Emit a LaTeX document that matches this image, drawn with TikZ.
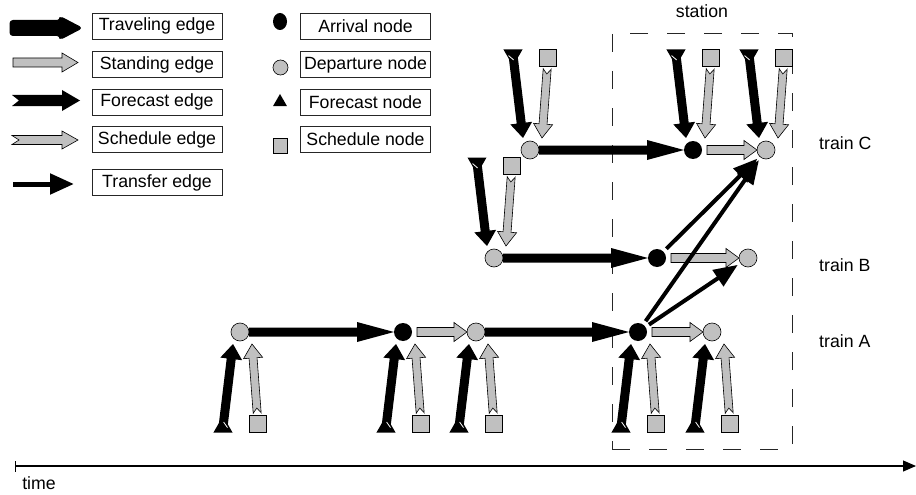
\documentclass[tikz,border=0pt]{standalone}
\usepackage{fontspec}
\setmainfont{Liberation Sans}
\usetikzlibrary{calc,shapes.geometric,arrows.meta}
\definecolor{lg}{RGB}{192,192,192}
\newdimen\fcdx \newdimen\fcdy
\makeatletter
% fat arrow drawn along the line between two named nodes/coordinates
\newcommand\fatconn[5]{%
  \pgfmathanglebetweenpoints{\pgfpointanchor{#2}{center}}{\pgfpointanchor{#3}{center}}%
  \let\fcang\pgfmathresult
  \pgfpointdiff{\pgfpointanchor{#2}{center}}{\pgfpointanchor{#3}{center}}%
  \fcdx=\pgf@x \fcdy=\pgf@y
  \pgfmathsetmacro\fclen{veclen(\fcdx,\fcdy)}%
  \pgfmathsetmacro\fcS{#4}%
  \pgfmathsetmacro\fcE{\fclen-(#5)}%
  \begin{scope}[shift={(#2.center)}, rotate=\fcang]
    #1
  \end{scope}}
\makeatother
% #1 style, #2 shaft half width, #3 head half width, #4 head length, #5 tail notch depth
\newcommand\shArrow[5]{%
  \pgfmathsetmacro\fcH{\fcE-(#4)}%
  \pgfmathsetmacro\fcN{\fcS+(#5)}%
  \path[#1] (\fcS,-#2) -- (\fcH,-#2) -- (\fcH,-#3) -- (\fcE,0) -- (\fcH,#3) -- (\fcH,#2) -- (\fcS,#2) -- (\fcN,0) -- cycle;}
\newcommand\shSlash[1]{\draw[white, line width=0.8pt] (\fcS,#1) -- (\fcN,0);}
\tikzset{
  lbl/.style={font=\fontsize{17.7}{20}\selectfont, inner sep=0pt},
  legbox/.style={draw=black!85, line width=0.7pt, minimum width=130pt, minimum height=26pt, inner sep=0pt, font=\fontsize{17.7}{20}\selectfont},
  arrnode/.style={circle, fill=black, minimum size=18pt, inner sep=0pt},
  depnode/.style={circle, fill=lg, draw=black, line width=0.6pt, minimum size=18pt, inner sep=0pt},
  fcnode/.style={regular polygon, regular polygon sides=3, fill=black, minimum size=22pt, inner sep=0pt},
  scnode/.style={rectangle, fill=lg, draw=black, line width=0.6pt, minimum size=17pt, inner sep=0pt},
  travel/.style={fill=black},
  standing/.style={fill=lg, draw=black, line width=0.6pt},
  forecast/.style={fill=black},
  schedule/.style={fill=lg, draw=black, line width=0.6pt},
  legtravel/.style={fill=black, draw=black, line width=1pt, rounded corners=3pt, line join=round},
  transfer/.style={line width=4pt, -{Triangle[length=24pt,width=19pt]}, shorten <=4pt, shorten >=3pt},
}
\newcommand\fsPair[3]{%
  \node[fcnode, shape border rotate=#3] (#1f) at ($(#1.center)+(-17,#2*95)$) {};
  \node[scnode] (#1s) at ($(#1.center)+(18,#2*92)$) {};
  \coordinate (#1ft) at ($(#1.center)+(-7,#2*12)$);
  \coordinate (#1st) at ($(#1.center)+(12,#2*12)$);
  \fatconn{\shArrow{forecast}{4.5}{11}{15}{5}\shSlash{4.5}}{#1f}{#1ft}{0}{0}%
  \fatconn{\shArrow{schedule}{4}{9.5}{14}{5}}{#1s}{#1st}{11}{0}}
\begin{document}
\begin{tikzpicture}[x=1pt,y=-1pt]
\useasboundingbox (0,0) rectangle (916,495);

% station frame
\node[draw=black!85, line width=0.9pt, dash pattern=on 18pt off 19pt, minimum width=180pt, minimum height=416pt, inner sep=0pt] (station) at (702,241) {};
\node[lbl] (stationlbl) at (702,11) {station};

% ---------- legend ----------
\coordinate (lt1) at (10,28);   \coordinate (lt2) at (82,28);
\coordinate (ls1) at (13,62.5); \coordinate (ls2) at (78,62.5);
\coordinate (lf1) at (12,100.5);\coordinate (lf2) at (80,100.5);
\coordinate (lc1) at (12,140);  \coordinate (lc2) at (78,140);
\coordinate (lr1) at (13,184);  \coordinate (lr2) at (74,184);
\fatconn{\shArrow{legtravel}{7.5}{11.5}{22}{0}}{lt1}{lt2}{0}{0}
\fatconn{\shArrow{standing}{4.5}{9.5}{16}{0}}{ls1}{ls2}{0}{0}
\fatconn{\shArrow{forecast}{5.5}{10.5}{18}{7}}{lf1}{lf2}{0}{0}
\fatconn{\shArrow{schedule}{4.5}{9}{16}{7}}{lc1}{lc2}{0}{0}
\draw[line width=5pt, -{Triangle[length=24pt,width=20pt]}] (lr1) -- (lr2);

\node[legbox] (bt) at (157,26)    {Traveling edge};
\node[legbox] (bs) at (157,64.5)  {Standing edge};
\node[legbox] (bf) at (157,102)   {Forecast edge};
\node[legbox] (bc) at (157,139.5) {Schedule edge};
\node[legbox] (br) at (157,182.5) {Transfer edge};

\node[ellipse, fill=black, minimum width=14pt, minimum height=17pt, inner sep=0pt] (la) at (280,21.5) {};
\node[circle, fill=lg, draw=black, line width=0.6pt, minimum size=15pt, inner sep=0pt] (ld) at (280.5,67.5) {};
\node[regular polygon, regular polygon sides=3, fill=black, minimum size=16pt, inner sep=0pt] (lfn) at (280,102) {};
\node[rectangle, fill=lg, draw=black, line width=0.6pt, minimum width=14pt, minimum height=15pt, inner sep=0pt] (lsn) at (280,145.5) {};

\node[legbox] (ba) at (365.5,26)    {Arrival node};
\node[legbox] (bd) at (365.5,64.5)  {Departure node};
\node[legbox] (bfn) at (365.5,102)  {Forecast node};
\node[legbox] (bsn) at (365.5,139.5){Schedule node};

% ---------- event nodes ----------
\node[depnode] (Cd1) at (530,150) {};
\node[arrnode] (Ca1) at (693,150) {};
\node[depnode] (Cd2) at (766,150) {};
\node[depnode] (Bd1) at (494,258) {};
\node[arrnode] (Ba1) at (657,258) {};
\node[depnode] (Bd2) at (748,258) {};
\node[depnode] (Ad1) at (240,332) {};
\node[arrnode] (Aa1) at (403,332) {};
\node[depnode] (Ad2) at (476,332) {};
\node[arrnode] (Aa2) at (638,332) {};
\node[depnode] (Ad3) at (712,332) {};

% forecast and schedule nodes with their edges
\fsPair{Cd1}{-1}{180}
\fsPair{Ca1}{-1}{180}
\fsPair{Cd2}{-1}{180}
\fsPair{Bd1}{-1}{180}
\fsPair{Ad1}{1}{0}
\fsPair{Aa1}{1}{0}
\fsPair{Ad2}{1}{0}
\fsPair{Aa2}{1}{0}
\fsPair{Ad3}{1}{0}

% traveling edges
\fatconn{\shArrow{travel}{4.5}{10}{37}{0}}{Cd1}{Ca1}{9}{9}
\fatconn{\shArrow{travel}{4.5}{10}{37}{0}}{Bd1}{Ba1}{9}{9}
\fatconn{\shArrow{travel}{4.5}{10}{37}{0}}{Ad1}{Aa1}{9}{9}
\fatconn{\shArrow{travel}{4.5}{10}{37}{0}}{Ad2}{Aa2}{9}{9}

% standing edges
\fatconn{\shArrow{standing}{4.5}{9.5}{13}{0}}{Ca1}{Cd2}{14}{9}
\fatconn{\shArrow{standing}{4.5}{9.5}{13}{0}}{Ba1}{Bd2}{14}{9}
\fatconn{\shArrow{standing}{4.5}{9.5}{13}{0}}{Aa1}{Ad2}{14}{9}
\fatconn{\shArrow{standing}{4.5}{9.5}{13}{0}}{Aa2}{Ad3}{14}{9}

% transfer edges
\draw[transfer] (Ba1) -- (Cd2);
\draw[transfer] (Aa2) -- (Cd2);
\draw[transfer] (Aa2) -- (Bd2);

% train labels
\node[lbl, anchor=west] (tC) at (819,143.5) {train C};
\node[lbl, anchor=west] (tB) at (819,265) {train B};
\node[lbl, anchor=west] (tA) at (819,341.5) {train A};

% time axis
\coordinate (t0) at (15,466);
\coordinate (t1) at (916,466);
\draw[line width=1.1pt, {Bar[width=11pt]}-{Triangle[length=13pt,width=11pt]}] (t0) -- (t1);
\node[lbl] (timelbl) at (39,483) {time};
\end{tikzpicture}
\end{document}
